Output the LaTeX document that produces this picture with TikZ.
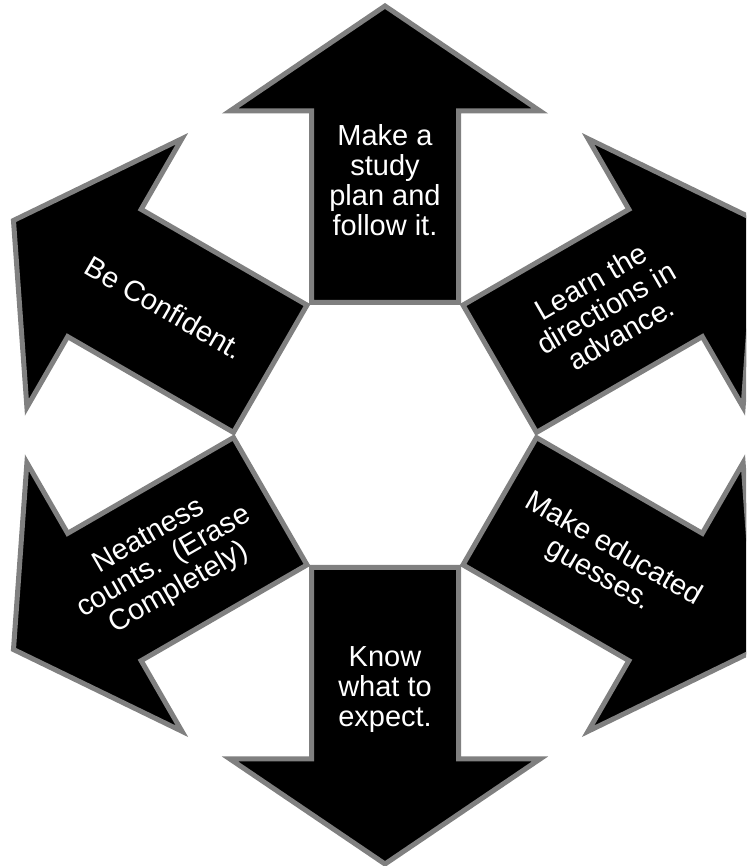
\documentclass[tikz,border=0pt]{standalone}
\usepackage{fontspec}
\setmainfont{Liberation Sans}
\usetikzlibrary{calc}
\definecolor{edgegray}{RGB}{128,128,128}
\tikzset{
  radarrow/.style={fill=black, draw=edgegray, line width=5pt, line join=miter},
  armtext/.style={text=white, align=center, inner sep=0pt, font=\fontsize{29}{30}\selectfont}
}
\newcommand\myarrow[1]{%
  \begin{scope}[shift={(385,431)}, rotate=#1]
    \draw[radarrow] (132.5,-73.5) -- (324,-73.5) -- (324,-155) -- (429,0)
      -- (324,155) -- (324,73.5) -- (132.5,73.5) -- cycle;
  \end{scope}}
\begin{document}
\begin{tikzpicture}[x=1pt,y=1pt]
\useasboundingbox (0,0) rectangle (746,866);
\clip (0,0) rectangle (746,866);
\coordinate (c) at (385,431);
\myarrow{90}
\myarrow{30}
\myarrow{-30}
\myarrow{-90}
\myarrow{-150}
\myarrow{150}
\node[armtext] (t1) at ($(c)+(90:255)$) {Make a\\study\\plan and\\follow it.};
\node[armtext, rotate=30] (t2) at ($(c)+(30:255)$) {Learn the\\directions in\\advance.};
\node[armtext, rotate=-30] (t3) at ($(c)+(-30:255)$) {Make educated\\guesses.};
\node[armtext] (t4) at ($(c)+(-90:255)$) {Know\\what to\\expect.};
\node[armtext, rotate=30] (t5) at ($(c)+(-150:255)$) {Neatness\\counts.\ \ (Erase\\Completely)};
\node[armtext, rotate=-30] (t6) at ($(c)+(150:255)$) {Be Confident.};
\end{tikzpicture}
\end{document}
